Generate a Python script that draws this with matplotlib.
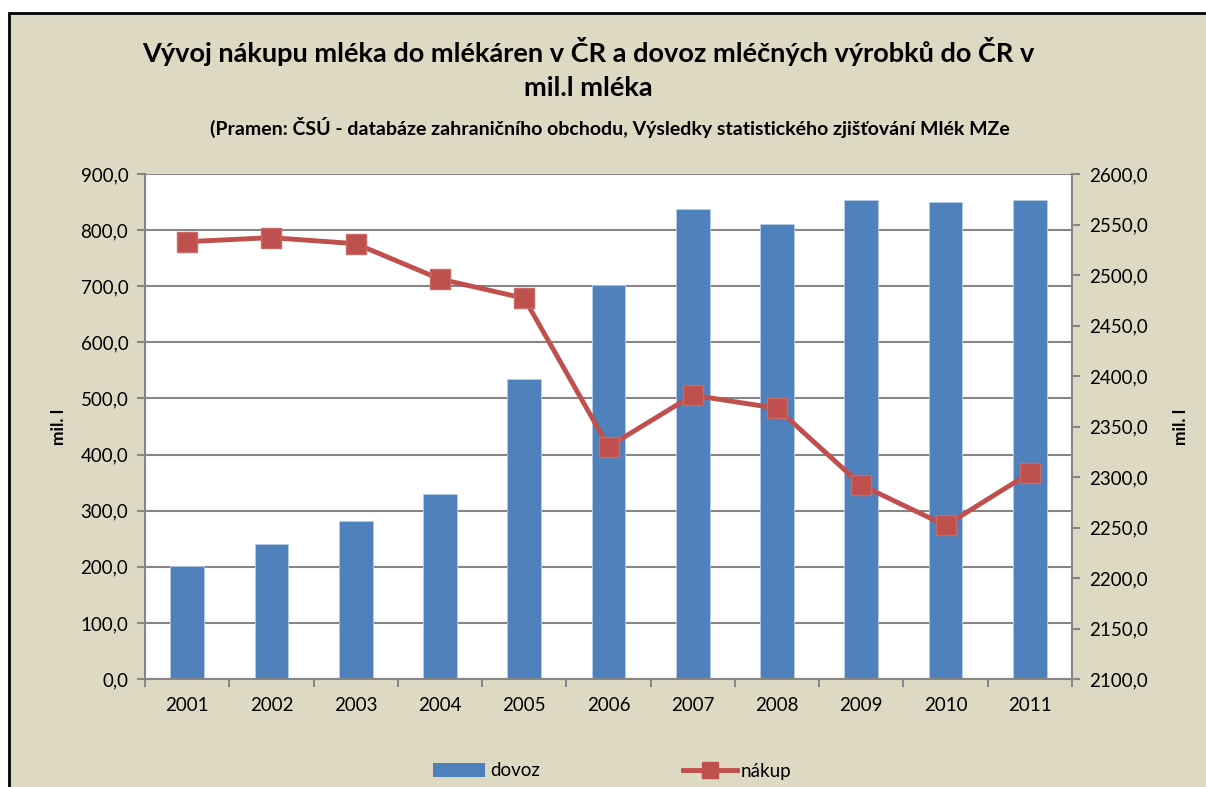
import numpy as np
import matplotlib.pyplot as plt
from matplotlib.patches import Rectangle
from matplotlib.lines import Line2D
from matplotlib.ticker import FuncFormatter

plt.rcParams['font.family'] = ['Lato', 'DejaVu Sans']

# Data
years = ['2001', '2002', '2003', '2004', '2005', '2006',
         '2007', '2008', '2009', '2010', '2011']
dovoz = [201, 241, 281, 330, 535, 702, 837, 811, 854, 850, 854]
nakup = [2533, 2537, 2531, 2496, 2477, 2330, 2381, 2368, 2292, 2252, 2304]

BG = '#DDD9C3'
BLUE = '#4F81BD'
RED = '#C0504D'
AXIS = '#868686'

fig = plt.figure(figsize=(12.06, 7.87), dpi=100, facecolor='white')

# chart area background with black border
fig.patches.append(Rectangle((9 / 1206, -0.05), 1.05, 1 - 13 / 787 + 0.05,
                             transform=fig.transFigure, facecolor=BG,
                             edgecolor='black', linewidth=2, zorder=-10))

ax = fig.add_axes([145 / 1206, 1 - 679 / 787, 927 / 1206, 505 / 787])
ax2 = ax.twinx()

x = np.arange(len(years))
ax.bar(x, dovoz, width=0.4, color=BLUE, edgecolor='#B9CDE5', linewidth=0.6, zorder=2)
ax.set_xlim(-0.5, len(years) - 0.5)
ax.set_ylim(0, 900)
ax.set_yticks(np.arange(0, 901, 100))
ax.yaxis.set_major_formatter(FuncFormatter(lambda v, p: f'{v:.1f}'.replace('.', ',')))
ax.set_xticks(x)
ax.set_xticklabels(years)
ax.set_xticks(np.arange(-0.5, len(years), 1), minor=True)
ax.tick_params(axis='x', which='major', length=0, labelsize=13.5, pad=13)
ax.tick_params(axis='x', which='minor', length=6, color=AXIS, width=1.5, direction='out')
ax.tick_params(axis='y', length=6, color=AXIS, width=1.5, labelsize=13.5, pad=6)
ax.grid(axis='y', color=AXIS, linewidth=1.5, zorder=0)
ax.set_axisbelow(True)
ax.set_facecolor('white')
for s in ['top', 'right']:
    ax.spines[s].set_visible(False)
for s in ['left', 'bottom']:
    ax.spines[s].set_color(AXIS)
    ax.spines[s].set_linewidth(1.5)
ax.set_ylabel('mil. l', fontsize=12.5, fontweight='bold', labelpad=10)

ax2.plot(x, nakup, color=RED, linewidth=3.5, marker='s', markersize=14,
         markerfacecolor=RED, markeredgecolor='#C96A67', zorder=3)
ax2.set_ylim(2100, 2600)
ax2.set_yticks(np.arange(2100, 2601, 50))
ax2.yaxis.set_major_formatter(FuncFormatter(lambda v, p: f'{v:.1f}'.replace('.', ',')))
ax2.tick_params(axis='y', length=6, color=AXIS, width=1.5, labelsize=13.5, pad=6)
for s in ['top', 'left', 'bottom']:
    ax2.spines[s].set_visible(False)
ax2.spines['right'].set_color(AXIS)
ax2.spines['right'].set_linewidth(1.5)
ax2.set_ylabel('mil. l', fontsize=12.5, fontweight='bold', labelpad=18)

# titles
fig.text(588 / 1206, 1 - 52 / 787,
         'Vývoj nákupu mléka do mlékáren v ČR a dovoz mléčných výrobků do ČR v',
         ha='center', va='center', fontsize=19.5, fontweight='bold')
fig.text(588 / 1206, 1 - 88 / 787, 'mil.l mléka',
         ha='center', va='center', fontsize=19.5, fontweight='bold')
fig.text(610 / 1206, 1 - 127 / 787,
         '(Pramen: ČSÚ - databáze zahraničního obchodu, Výsledky statistického zjišťování Mlék MZe',
         ha='center', va='center', fontsize=14, fontweight='bold')

# legend entries placed separately
leg1 = fig.legend([Rectangle((0, 0), 1, 1, facecolor=BLUE)], ['dovoz'],
                  loc='center left', bbox_to_anchor=(433 / 1206, 1 - 771 / 787),
                  frameon=False, fontsize=13.5, borderpad=0, borderaxespad=0,
                  handlelength=2.8, handletextpad=0.25)
leg2 = fig.legend([Line2D([0], [0], color=RED, linewidth=3.5, marker='s', markersize=11)],
                  ['nákup'], loc='center left',
                  bbox_to_anchor=(683 / 1206, 1 - 771 / 787),
                  frameon=False, fontsize=13.5, borderpad=0, borderaxespad=0,
                  handlelength=2.9, handletextpad=0.15)

fig.savefig('out.png', dpi=100, facecolor='white')
